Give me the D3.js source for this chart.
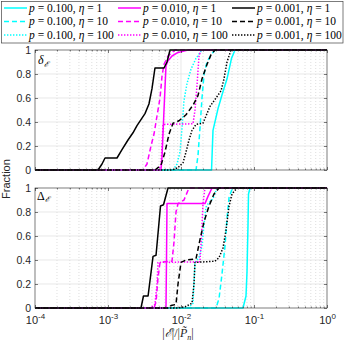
<!DOCTYPE html>
<html><head><meta charset="utf-8">
<script src="https://cdn.jsdelivr.net/npm/d3@7"></script>
<style>body{margin:0;background:#fff} svg{display:block}</style>
</head><body><svg id="c" width="346" height="343"></svg>
<script>
// ---- Data: [|E|/|P_n|, fraction] ----
// Top panel (delta_E)
const dCyan1   = [[1e-4,0],[2.62e-2,0],[2.744e-2,0.33],[3.21e-2,0.51],[3.64e-2,0.625],[4.27e-2,0.76],[4.92e-2,0.93],[5.49e-2,1],[1,1]];
const dCyan10  = [[1e-4,0],[1.605e-2,0],[1.709e-2,0.12],[1.82e-2,0.35],[1.94e-2,0.6],[2.07e-2,0.8],[2.27e-2,0.9],[2.577e-2,0.96],[2.922e-2,1],[1,1]];
const dCyan100 = [[1e-4,0],[7.77e-3,0],[8.82e-3,0.05],[9.69e-3,0.15],[1.032e-2,0.35],[1.099e-2,0.58],[1.208e-2,0.72],[1.371e-2,0.84],[1.605e-2,0.93],[1.879e-2,0.99],[2.07e-2,1],[1,1]];
const dMag1    = [[1e-4,0],[5.32e-3,0],[5.49e-3,0.1],[5.85e-3,0.5],[6.23e-3,0.87],[6.64e-3,0.91],[7.53e-3,0.95],[9.1e-3,0.98],[1.247e-2,1],[1,1]];
const dMag10   = [[1e-4,0],[3.018e-3,0],[3.42e-3,0.05],[3.88e-3,0.2],[4.27e-3,0.3],[4.69e-3,0.45],[5.16e-3,0.6],[5.49e-3,0.78],[5.85e-3,0.88],[6.64e-3,0.95],[8.28e-3,1],[1,1]];
const dMag100  = [[1e-4,0],[5.0e-3,0],[5.32e-3,0.05],[5.67e-3,0.38],[1.46e-2,0.385],[1.555e-2,0.5],[1.656e-2,0.7],[1.765e-2,0.95],[1.879e-2,1],[1,1]];
const dBlk1    = [[1e-4,0],[7.3e-4,0],[8.28e-4,0.05],[9.1e-4,0.1],[1.328e-3,0.1],[1.555e-3,0.17],[1.879e-3,0.25],[2.2e-3,0.31],[2.495e-3,0.37],[2.83e-3,0.42],[3.21e-3,0.47],[3.64e-3,0.55],[4.01e-3,0.68],[4.40e-3,0.85],[5.85e-3,0.85],[6.43e-3,0.9],[7.07e-3,1],[1,1]];
const dBlk10   = [[1e-4,0],[4.40e-3,0],[5.32e-3,0.04],[6.04e-3,0.15],[6.85e-3,0.3],[7.77e-3,0.39],[9.39e-3,0.41],[1.171e-2,0.46],[1.46e-2,0.54],[1.709e-2,0.62],[1.94e-2,0.76],[2.27e-2,0.88],[2.577e-2,0.96],[2.922e-2,1],[1,1]];
const dBlk100  = [[1e-4,0],[7.53e-3,0],[9.1e-3,0.02],[1.065e-2,0.06],[1.171e-2,0.15],[1.287e-2,0.25],[1.415e-2,0.33],[1.605e-2,0.38],[2.0e-2,0.39],[2.2e-2,0.45],[2.495e-2,0.53],[3.018e-2,0.6],[3.54e-2,0.66],[3.88e-2,0.76],[4.27e-2,0.9],[4.84e-2,1],[1,1]];
// Bottom panel (Delta_E)
const DCyan1   = [[1e-4,0],[7.07e-2,0],[7.77e-2,0.1],[8.02e-2,0.3],[8.28e-2,0.7],[8.41e-2,0.95],[8.82e-2,1],[1,1]];
const DCyan10  = [[1e-4,0],[3.018e-2,0],[3.32e-2,0.08],[3.64e-2,0.28],[4.01e-2,0.52],[4.27e-2,0.75],[4.55e-2,0.92],[5.0e-2,0.99],[5.67e-2,1],[1,1]];
const DCyan100 = [[1e-4,0],[1.247e-2,0],[1.46e-2,0.04],[1.555e-2,0.38],[1.765e-2,0.42],[1.94e-2,0.52],[2.07e-2,0.7],[2.2e-2,0.84],[2.42e-2,0.88],[2.744e-2,0.91],[3.11e-2,1],[1,1]];
const DMag1    = [[1e-4,0],[6.23e-3,0],[6.33e-3,0.4],[6.43e-3,0.87],[2.13e-2,0.87],[2.343e-2,0.93],[2.66e-2,1],[1,1]];
const DMag10   = [[1e-4,0],[4.27e-3,0],[4.55e-3,0.05],[4.84e-3,0.25],[5.16e-3,0.38],[7.53e-3,0.39],[8.02e-3,0.55],[8.54e-3,0.8],[9.1e-3,0.87],[1.099e-2,0.9],[1.287e-2,1],[1,1]];
const DMag100  = [[1e-4,0],[3.76e-3,0],[4.40e-3,0.03],[4.69e-3,0.2],[4.84e-3,0.38],[1.82e-2,0.385],[1.91e-2,0.6],[2.0e-2,0.87],[2.13e-2,1],[1,1]];
const DBlk1    = [[1e-4,0],[2.83e-3,0],[3.06e-3,0.1],[3.54e-3,0.1],[4.14e-3,0.43],[4.55e-3,0.44],[5.24e-3,0.85],[5.76e-3,0.86],[6.64e-3,1],[1,1]];
const DBlk10   = [[1e-4,0],[6.64e-3,0],[7.3e-3,0.02],[8.54e-3,0.03],[9.1e-3,0.2],[1.0e-2,0.38],[1.171e-2,0.4],[1.605e-2,0.41],[1.82e-2,0.57],[2.07e-2,0.72],[2.42e-2,0.85],[2.83e-2,0.95],[3.32e-2,1],[1,1]];
const DBlk100  = [[1e-4,0],[9.1e-3,0],[1.134e-2,0.01],[1.415e-2,0.04],[1.507e-2,0.2],[1.555e-2,0.38],[2.922e-2,0.39],[3.32e-2,0.42],[3.76e-2,0.5],[4.14e-2,0.65],[4.55e-2,0.85],[5.0e-2,0.95],[5.85e-2,1],[1,1]];

const pValues   = ["0.100","0.010","0.001"];
const etaValues = ["1","10","100"];
const colors    = ["#00ffff","#ff00ff","#000000"];
const dashes    = [null,"5,3","1.4,1.6"];
const yTicks    = [0,0.2,0.4,0.6,0.8,1];
const xTicks    = [1e-4,1e-3,1e-2,1e-1,1];
const xTickExp  = ["-4","-3","-2","-1","0"];

const topSeries = [dCyan1,dCyan10,dCyan100,dMag1,dMag10,dMag100,dBlk1,dBlk10,dBlk100];
const botSeries = [DCyan1,DCyan10,DCyan100,DMag1,DMag10,DMag100,DBlk1,DBlk10,DBlk100];

// ---- Drawing ----
const svg = d3.select("#c");
const L = 35, R = 327;
const x = d3.scaleLog().domain([1e-4,1]).range([L,R]);
const sansFont = "'Liberation Sans', Arial, sans-serif";
const serifFont = "'Liberation Serif', 'DejaVu Serif', serif";

const minorX = [];
for (let e=-4;e<0;e++) for (let k=2;k<=9;k++) minorX.push(k*Math.pow(10,e));

function panel(top, bottom, series, labelFn, showXLabels){
  const y = d3.scaleLinear().domain([0,1]).range([bottom, top]);
  const g = svg.append("g");
  g.selectAll(null).data(minorX).enter().append("line")
    .attr("x1",d=>x(d)).attr("x2",d=>x(d)).attr("y1",top).attr("y2",bottom)
    .attr("stroke","#c8c8c8").attr("stroke-width",0.6).attr("stroke-dasharray","1,2");
  g.selectAll(null).data(xTicks.slice(1,-1)).enter().append("line")
    .attr("x1",d=>x(d)).attr("x2",d=>x(d)).attr("y1",top).attr("y2",bottom)
    .attr("stroke","#dedede").attr("stroke-width",0.7);
  g.selectAll(null).data(yTicks.slice(1,-1)).enter().append("line")
    .attr("x1",L).attr("x2",R).attr("y1",d=>y(d)).attr("y2",d=>y(d))
    .attr("stroke","#dedede").attr("stroke-width",0.7);

  const line = d3.line().x(d=>x(d[0])).y(d=>y(d[1]));
  series.forEach((s,i)=>{
    const ci = Math.floor(i/3), li = i%3;
    const p = g.append("path").datum(s).attr("d",line)
      .attr("fill","none").attr("stroke",colors[ci]).attr("stroke-width",1.5)
      .attr("stroke-linejoin","round");
    if (dashes[li]) p.attr("stroke-dasharray",dashes[li]);
  });

  const ax = svg.append("g").attr("font-family",sansFont);
  const yl = ax.append("g").attr("transform",`translate(${L},0)`)
    .call(d3.axisLeft(y).tickValues(yTicks).tickSize(-3).tickPadding(4).tickFormat(d=>d3.format("")(d)));
  const yr = ax.append("g").attr("transform",`translate(${R},0)`)
    .call(d3.axisRight(y).tickValues(yTicks).tickSize(-3).tickFormat(""));
  const xb = ax.append("g").attr("transform",`translate(0,${bottom})`)
    .call(d3.axisBottom(x).tickValues(xTicks).tickSize(-3).tickPadding(6).tickFormat(""));
  const xt = ax.append("g").attr("transform",`translate(0,${top})`)
    .call(d3.axisTop(x).tickValues(xTicks).tickSize(-3).tickFormat(""));
  const xbm = ax.append("g").attr("transform",`translate(0,${bottom})`)
    .call(d3.axisBottom(x).tickValues(minorX).tickSize(-1.5).tickFormat(""));
  const xtm = ax.append("g").attr("transform",`translate(0,${top})`)
    .call(d3.axisTop(x).tickValues(minorX).tickSize(-1.5).tickFormat(""));
  [yl,yr,xb,xt,xbm,xtm].forEach(a=>{
    a.select(".domain").remove();
    a.selectAll("line").attr("stroke","#262626").attr("stroke-width",0.6);
  });
  yl.selectAll("text").attr("font-size",10.5).attr("fill","#262626").attr("font-family",sansFont);
  if (showXLabels){
    xb.selectAll(".tick").each(function(d){
      const t = d3.select(this).select("text");
      t.text(null).attr("font-size",11).attr("fill","#262626").attr("font-family",sansFont).attr("y",null).attr("dy",null)
        .attr("transform","translate(0,15.5)");
      t.append("tspan").text("10");
      t.append("tspan").attr("font-size",8).attr("dy",-5).text(xTickExp[xTicks.indexOf(d)]);
    });
  }
  ax.append("rect").attr("x",L).attr("y",top).attr("width",R-L).attr("height",bottom-top)
    .attr("fill","none").attr("stroke","#262626").attr("stroke-width",0.6);
  labelFn(svg, top);
  return y;
}

panel(50,170,topSeries,(s,top)=>{
  const t = s.append("text").attr("x",38).attr("y",top+14).attr("font-family",serifFont).attr("font-size",12);
  t.append("tspan").attr("font-style","italic").text("δ");
  t.append("tspan").attr("font-size",8).attr("dy",2.5).attr("font-style","italic").text("ℰ");
}, false);

panel(188,308,botSeries,(s,top)=>{
  const t = s.append("text").attr("x",37).attr("y",top+11.5).attr("font-family",serifFont).attr("font-size",12);
  t.append("tspan").text("Δ");
  t.append("tspan").attr("font-size",8).attr("dy",2.5).attr("font-style","italic").text("ℰ");
}, true);

svg.append("text").attr("transform","translate(10,179) rotate(-90)")
  .attr("text-anchor","middle").attr("font-family",sansFont).attr("font-size",11).attr("fill","#262626")
  .text("Fraction");

const xl = svg.append("text").attr("x",178).attr("y",337).attr("text-anchor","middle")
  .attr("font-family",serifFont).attr("font-size",12).attr("fill","#262626");
xl.append("tspan").text("|");
xl.append("tspan").attr("font-style","italic").text("ℰ");
xl.append("tspan").text("|/|");
xl.append("tspan").attr("font-style","italic").text("P̃");
xl.append("tspan").attr("font-size",8).attr("dy",2.5).attr("font-style","italic").text("n");
xl.append("tspan").attr("dy",-2.5).text("|");

const lg = svg.append("g");
lg.append("rect").attr("x",1.5).attr("y",1.5).attr("width",341.5).attr("height",41.5)
  .attr("fill","#fff").attr("stroke","#444").attr("stroke-width",0.7);
const colX = [4,118,232];
const rowY = [8,21.5,35];
pValues.forEach((pv,ci)=>{
  etaValues.forEach((ev,li)=>{
    const yy = rowY[li], xx = colX[ci];
    const ln = lg.append("line").attr("x1",xx).attr("x2",xx+23).attr("y1",yy).attr("y2",yy)
      .attr("stroke",colors[ci]).attr("stroke-width",1.5);
    if (dashes[li]) ln.attr("stroke-dasharray",dashes[li]);
    const t = lg.append("text").attr("x",xx+25).attr("y",yy+3.8)
      .attr("font-family",serifFont).attr("font-size",11.5).attr("fill","#000");
    t.append("tspan").attr("font-style","italic").text("p");
    t.append("tspan").text(" = " + pv + ", ");
    t.append("tspan").attr("font-style","italic").text("η");
    t.append("tspan").text(" = " + ev);
  });
});
</script></body></html>
